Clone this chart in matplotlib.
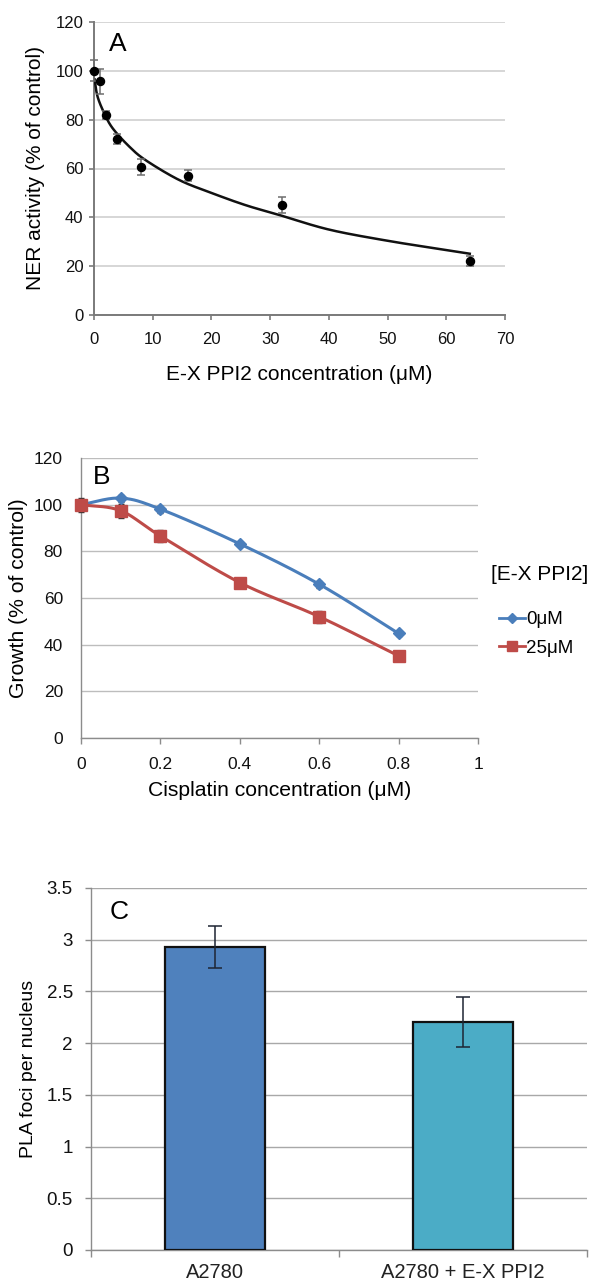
import numpy as np
import matplotlib
matplotlib.use("Agg")
import matplotlib.pyplot as plt
from matplotlib.lines import Line2D

plt.rcParams['font.family'] = ['Liberation Sans', 'DejaVu Sans']

# ---------------- Panel A data ----------------
a_x = [0, 1, 2, 4, 8, 16, 32, 64]
a_y = [100.1, 95.7, 82.0, 72.1, 60.7, 57.1, 45.2, 22.1]
a_err = [4.4, 5.0, 1.7, 2.0, 3.2, 2.4, 3.3, 1.9]
# fitted trend curve
a_fit_x = [0.1, 0.6, 1.75, 3.2, 6, 8.8, 14.5, 20, 25.8, 31.5, 40, 50, 60, 64]
a_fit_y = [96.5, 89.5, 82.6, 76.4, 69.0, 63.4, 55.3, 50.0, 45.0, 41.0, 35.0, 30.4, 26.6, 25.1]
a_xticks = [0, 10, 20, 30, 40, 50, 60, 70]
a_yticks = [0, 20, 40, 60, 80, 100, 120]

# ---------------- Panel B data ----------------
b_x = [0, 0.1, 0.2, 0.4, 0.6, 0.8]
b_0uM = [100.0, 102.8, 98.1, 83.2, 65.9, 44.8]
b_0uM_err = [2.0, 1.5, 1.5, 1.0, 1.5, 1.0]
b_25uM = [100.0, 97.4, 86.6, 66.6, 52.0, 35.2]
b_25uM_err = [3.0, 3.0, 2.5, 1.0, 2.5, 1.0]
b_series = ['0μM', '25μM']
b_legend_title = '[E-X PPI2]'
b_xticks = [0, 0.2, 0.4, 0.6, 0.8, 1]
b_xticklabels = ['0', '0.2', '0.4', '0.6', '0.8', '1']
b_yticks = [0, 20, 40, 60, 80, 100, 120]

# ---------------- Panel C data ----------------
c_cats = ['A2780', 'A2780 + E-X PPI2']
c_vals = [2.93, 2.20]
c_err_lo = [0.20, 0.24]
c_err_hi = [0.20, 0.25]
c_yticks = [0, 0.5, 1, 1.5, 2, 2.5, 3, 3.5]
c_yticklabels = ['0', '0.5', '1', '1.5', '2', '2.5', '3', '3.5']


def smooth(xs, ys, n=30):
    """Catmull-Rom style smoothing, like Excel smoothed lines."""
    xs = np.asarray(xs, float); ys = np.asarray(ys, float)
    P = np.column_stack([xs, ys])
    P = np.vstack([P[0] - (P[1] - P[0]), P, P[-1] + (P[-1] - P[-2])])
    out = []
    for i in range(1, len(P) - 2):
        p0, p1, p2, p3 = P[i - 1], P[i], P[i + 1], P[i + 2]
        t = np.linspace(0, 1, n)[:, None]
        c = 0.5 * ((2 * p1) + (-p0 + p2) * t + (2 * p0 - 5 * p1 + 4 * p2 - p3) * t ** 2
                   + (-p0 + 3 * p1 - 3 * p2 + p3) * t ** 3)
        out.append(c if i == 1 else c[1:])
    out = np.vstack(out)
    return out[:, 0], out[:, 1]


W, H = 590, 1283
fig = plt.figure(figsize=(W / 100, H / 100), dpi=100)

def rect(l, r, t, b):
    return [l / W, 1 - b / H, (r - l) / W, (b - t) / H]

spine_col = '#8C8C8C'

# ================= Panel A =================
axA = fig.add_axes(rect(94, 505, 22, 315))
axA.set_xlim(0, 70)
axA.set_ylim(0, 120)
axA.set_xticks(a_xticks)
axA.set_yticks(a_yticks)
axA.yaxis.grid(True, color='#D6D6D6', lw=1.4)
axA.set_axisbelow(True)
for s in ['top', 'right']:
    axA.spines[s].set_visible(False)
for s in ['left', 'bottom']:
    axA.spines[s].set_color('#7A7A7A')
    axA.spines[s].set_linewidth(1.4)
axA.tick_params(axis='both', colors='#7A7A7A', length=3.5, width=1.2, labelsize=12,
                labelcolor='#111111', pad=4)
axA.tick_params(axis='x', pad=9)
fx, fy = smooth(a_fit_x, a_fit_y)
axA.plot(fx, fy, color='#111111', lw=1.8, zorder=3)
axA.errorbar(a_x, a_y, yerr=a_err, fmt='o', color='#000000', ms=5.8,
             ecolor='#6E6E6E', elinewidth=1.1, capsize=3, capthick=1.1, zorder=4,
             clip_on=False)
axA.set_xlabel('E-X PPI2 concentration (μM)', fontsize=15, labelpad=13)
axA.set_ylabel('NER activity (% of control)', fontsize=15, labelpad=8)
axA.text(2.6, 111, 'A', fontsize=19, va='center', ha='left')

# ================= Panel B =================
axB = fig.add_axes(rect(81, 478, 458, 738))
axB.set_xlim(0, 1)
axB.set_ylim(0, 120)
axB.set_xticks(b_xticks)
axB.set_xticklabels(b_xticklabels)
axB.set_yticks(b_yticks)
axB.yaxis.grid(True, color='#BDBDBD', lw=1.0)
axB.set_axisbelow(True)
for s in ['top', 'right']:
    axB.spines[s].set_visible(False)
for s in ['left', 'bottom']:
    axB.spines[s].set_color(spine_col)
    axB.spines[s].set_linewidth(1.0)
axB.tick_params(axis='x', colors=spine_col, length=4, width=1.0, labelsize=12.5,
                labelcolor='#111111', pad=10)
axB.tick_params(axis='y', length=0, labelsize=12.5, labelcolor='#111111', pad=13)

blue = '#4A7EBB'
red = '#BE4B48'
sx, sy = smooth(b_x, b_0uM)
axB.plot(sx, sy, color=blue, lw=2.2, zorder=3)
axB.errorbar(b_x, b_0uM, yerr=b_0uM_err, fmt='D', color=blue, ms=6, ecolor='#333333',
             elinewidth=1, capsize=2, zorder=4, clip_on=False)
sx, sy = smooth(b_x, b_25uM)
axB.plot(sx, sy, color=red, lw=2.2, zorder=3)
axB.errorbar(b_x, b_25uM, yerr=b_25uM_err, fmt='s', color=red, ms=8, ecolor='#333333',
             elinewidth=1, capsize=2, zorder=4, clip_on=False)
axB.set_xlabel('Cisplatin concentration (μM)', fontsize=15.2, labelpad=6)
axB.set_ylabel('Growth (% of control)', fontsize=15.2, labelpad=4)
axB.text(0.03, 112, 'B', fontsize=19, va='center', ha='left')

fig.text(491 / W, 1 - 575 / H, b_legend_title, fontsize=15, ha='left', va='center')
handles = [Line2D([], [], color=blue, marker='D', ms=5, lw=2),
           Line2D([], [], color=red, marker='s', ms=6.5, lw=2)]
leg = fig.legend(handles, b_series, loc='upper left',
                 bbox_to_anchor=(499 / W, 1 - 611 / H), frameon=False,
                 fontsize=13.5, handlelength=1.4, handletextpad=0.05,
                 labelspacing=0.62, borderaxespad=0, borderpad=0)

# ================= Panel C =================
axC = fig.add_axes(rect(91, 587, 888, 1250))
xpos = np.arange(len(c_cats))
axC.set_xlim(-0.5, len(c_cats) - 0.5)
axC.set_ylim(0, 3.5)
axC.set_yticks(c_yticks)
axC.set_yticklabels(c_yticklabels)
axC.yaxis.grid(True, color='#A8A8A8', lw=1.0)
axC.set_axisbelow(True)
bar_cols = ['#4F81BD', '#4BACC6']
axC.bar(xpos, c_vals, width=0.4, color=bar_cols, edgecolor='#111111', linewidth=1.6,
        zorder=3)
axC.errorbar(xpos, c_vals, yerr=[c_err_lo, c_err_hi], fmt='none', ecolor='#1E2533',
             elinewidth=1.1, capsize=5, capthick=1.1, zorder=4)
for s in ['top', 'right']:
    axC.spines[s].set_visible(False)
for s in ['left', 'bottom']:
    axC.spines[s].set_color(spine_col)
    axC.spines[s].set_linewidth(1.0)
axC.set_xticks(xpos)
axC.set_xticklabels(c_cats)
axC.set_xticks([-0.5, 0.5, 1.5], minor=True)
axC.tick_params(axis='x', which='major', length=0, labelsize=14.5, labelcolor='#222222', pad=9)
axC.tick_params(axis='x', which='minor', length=5, width=1.0, colors=spine_col)
axC.tick_params(axis='y', length=4, width=1.0, colors=spine_col, labelsize=13.5,
                labelcolor='#111111', pad=9)
axC.set_ylabel('PLA foci per nucleus', fontsize=14, labelpad=7)
axC.text(0.038, 3.27, 'C', transform=axC.get_yaxis_transform(), fontsize=19,
         va='center', ha='left')

fig.savefig('out.png', dpi=100)
